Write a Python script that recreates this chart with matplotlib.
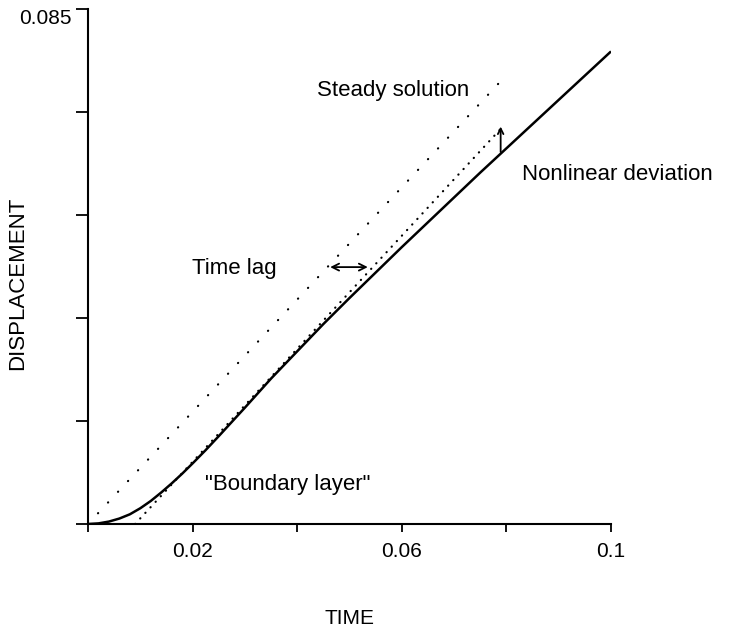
import matplotlib
matplotlib.use("Agg")
import matplotlib.pyplot as plt

plt.rcParams['font.family'] = ['Liberation Sans', 'DejaVu Sans']

# Solid curve (actual displacement)
time = [0, 0.002, 0.004, 0.006, 0.008, 0.010, 0.012, 0.014, 0.016, 0.018,
        0.02, 0.0225, 0.025, 0.03, 0.035, 0.04, 0.045,
        0.05, 0.055, 0.06, 0.065, 0.07, 0.075, 0.08, 0.085, 0.09, 0.095, 0.1]
displacement = [0, 0.0001, 0.0004, 0.0009, 0.0016, 0.0026, 0.0038, 0.0052,
                0.0067, 0.0083, 0.0100, 0.0122, 0.0145, 0.0192,
                0.0240, 0.0285, 0.0330, 0.0373, 0.0415, 0.0457, 0.0498, 0.0539,
                0.0580, 0.0620, 0.0660, 0.0700, 0.0740, 0.0780]

# Dotted lines
steady_t = [0, 0.0786]
steady_y = [0, 0.0728]
lag_t = [0.009, 0.079]
lag_y = [0, 0.0653]

xticks = [0, 0.02, 0.04, 0.06, 0.08, 0.1]
xticklabels = ['', '0.02', '', '0.06', '', '0.1']
yticks = [0, 0.017, 0.034, 0.051, 0.068, 0.085]
yticklabels = ['', '', '', '', '', '0.085']

W, H = 729, 630
fig = plt.figure(figsize=(W/100, H/100), dpi=100)
ax = fig.add_axes([88/W, 1 - 524/H, (611-88)/W, (524-9)/H])

ax.plot(time, displacement, color='black', lw=1.8, solid_capstyle='butt',
        solid_joinstyle='round')
ax.plot(steady_t, steady_y, color='black', lw=1.6,
        linestyle=(0, (0.1, 6.5)), dash_capstyle='round')
ax.plot(lag_t, lag_y, color='black', lw=1.6,
        linestyle=(0, (0.1, 3.3)), dash_capstyle='round')

ax.set_xlim(0, 0.1)
ax.set_ylim(0, 0.085)
ax.set_xticks(xticks)
ax.set_xticklabels(xticklabels)
ax.set_yticks(yticks)
ax.set_yticklabels(yticklabels)
for lab in ax.get_yticklabels():
    lab.set_va('top')

for s in ['top', 'right']:
    ax.spines[s].set_visible(False)
for s in ['left', 'bottom']:
    ax.spines[s].set_linewidth(1.5)

ax.tick_params(axis='x', direction='out', length=6, width=1.3, pad=7, labelsize=15)
ax.tick_params(axis='y', direction='out', length=9, width=1.3, pad=3, labelsize=15)

fig.text(349.5/W, 1 - 618/H, 'TIME', fontsize=15, ha='center', va='center')
fig.text(18/W, 1 - 283/H, 'DISPLACEMENT', fontsize=16, ha='center',
         va='center', rotation=90)

txt = dict(fontsize=16, color='black', va='baseline', ha='left')
ax.text(0.0438, 0.0706, 'Steady solution', **txt)
ax.text(0.0830, 0.0568, 'Nonlinear deviation', **txt)
ax.text(0.0199, 0.0413, 'Time lag', **txt)
ax.text(0.0224, 0.0056, '"Boundary layer"', **txt)

ax.annotate('', xy=(0.0463, 0.0424), xytext=(0.0535, 0.0424),
            arrowprops=dict(arrowstyle='<->,head_length=0.5,head_width=0.25',
                            lw=1.3, color='black', shrinkA=0, shrinkB=0))
ax.annotate('', xy=(0.0789, 0.0656), xytext=(0.0789, 0.0614),
            arrowprops=dict(arrowstyle='->,head_length=0.4,head_width=0.2',
                            lw=1.3, color='black', shrinkA=0, shrinkB=0))

fig.savefig('out.png', dpi=100, facecolor='white')
